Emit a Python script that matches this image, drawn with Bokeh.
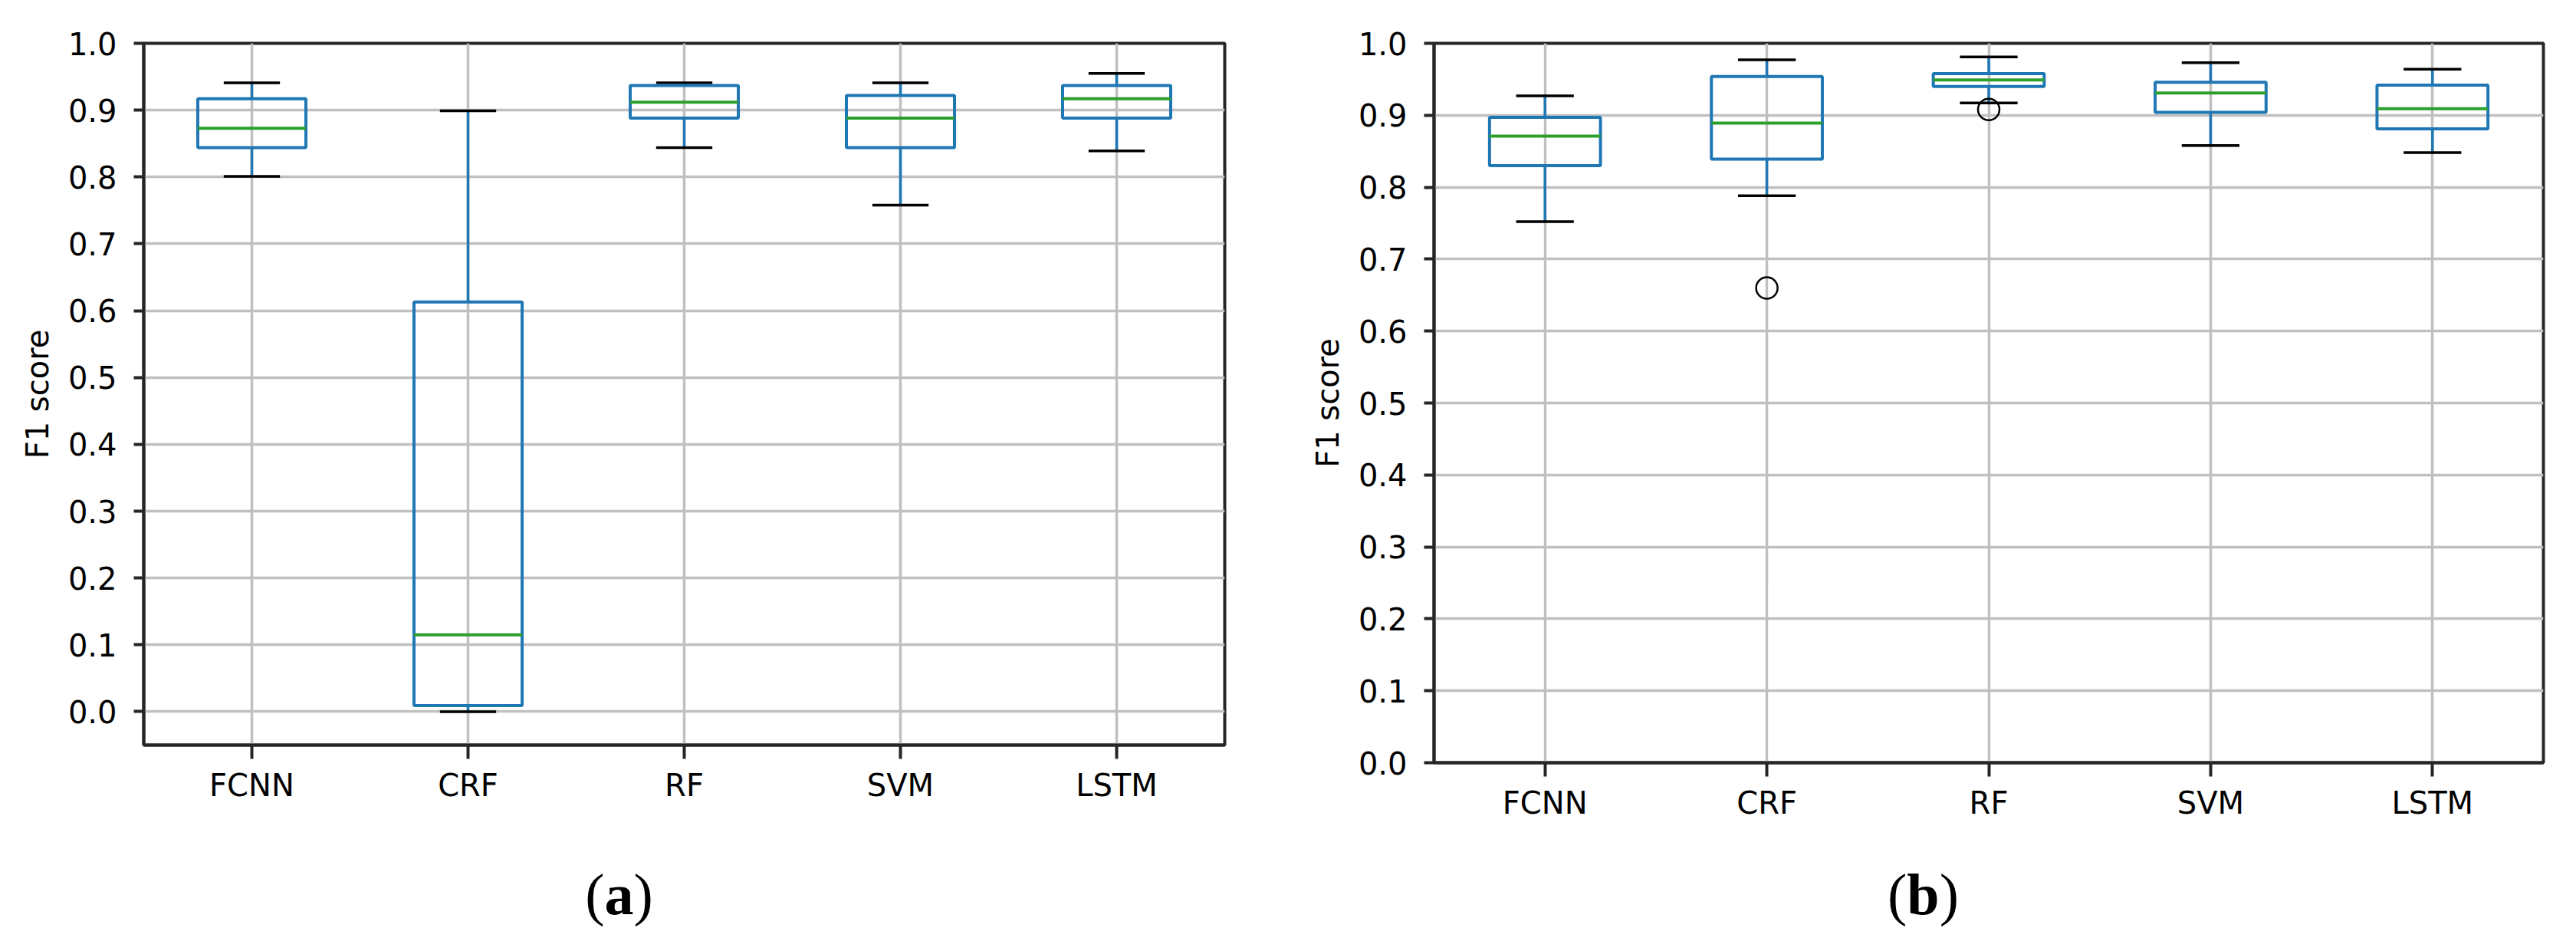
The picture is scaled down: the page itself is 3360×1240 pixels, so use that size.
from bokeh.plotting import figure
from bokeh.layouts import row, column
from bokeh.models import ColumnDataSource, FactorRange, Range1d, FixedTicker, PrintfTickFormatter
from bokeh.transform import dodge
from bokeh.core.properties import value
from bokeh.embed import file_html
from bokeh.resources import INLINE

# ---------------- data ----------------
categories = ["FCNN", "CRF", "RF", "SVM", "LSTM"]
y_ticks = [0.0, 0.1, 0.2, 0.3, 0.4, 0.5, 0.6, 0.7, 0.8, 0.9, 1.0]
y_label = "F1 score"
captions = ["a", "b"]

# panel (a)
a_low = [0.801, 0.000, 0.844, 0.758, 0.839]
a_q1 = [0.844, 0.009, 0.888, 0.844, 0.888]
a_median = [0.873, 0.115, 0.912, 0.888, 0.917]
a_q3 = [0.917, 0.613, 0.937, 0.922, 0.937]
a_high = [0.941, 0.899, 0.941, 0.941, 0.955]
a_out_cat = []
a_out_val = []

# panel (b)
b_low = [0.752, 0.788, 0.917, 0.858, 0.848]
b_q1 = [0.830, 0.839, 0.940, 0.904, 0.881]
b_median = [0.871, 0.889, 0.949, 0.931, 0.909]
b_q3 = [0.897, 0.954, 0.958, 0.946, 0.942]
b_high = [0.927, 0.977, 0.981, 0.973, 0.964]
b_out_cat = ["CRF", "RF"]
b_out_val = [0.660, 0.908]

BLUE = "#1f77b4"
GREEN = "#2ca02c"
DARK = "#262626"
GRID = "#c0c0c0"
FONT = "DejaVu Sans"
FIG_W = 1672
PLOT_H = 1075
CAP_H = 150


def make_panel(low, q1, med, q3, high, out_cat, out_val, y0, border_left, frame_w,
               frame_h):
    border_right = FIG_W - border_left - frame_w
    border_bottom = PLOT_H - 56 - frame_h
    p = figure(x_range=FactorRange(factors=categories, range_padding=0),
               y_range=Range1d(y0, 1.0), title=None,
               frame_width=frame_w, frame_height=frame_h,
               min_border_left=border_left, min_border_right=border_right,
               min_border_top=56, min_border_bottom=border_bottom,
               output_backend="svg", toolbar_location=None,
               background_fill_color="white", border_fill_color="white")
    src = ColumnDataSource(dict(x=categories, low=low, q1=q1, med=med, q3=q3, high=high))

    for g in (p.xgrid, p.ygrid):
        g.grid_line_color = GRID
        g.grid_line_width = 3.5
    p.yaxis.ticker = FixedTicker(ticks=y_ticks)
    p.ygrid.ticker = FixedTicker(ticks=y_ticks)
    p.yaxis.formatter = PrintfTickFormatter(format="%.1f")

    for ax in (p.xaxis, p.yaxis):
        ax.axis_line_color = DARK
        ax.axis_line_width = 4
        ax.major_tick_line_color = DARK
        ax.major_tick_line_width = 4
        ax.major_tick_in = 0
        ax.minor_tick_line_color = None
        ax.major_label_text_font = FONT
        ax.major_label_text_font_size = "40px"
        ax.major_label_text_color = "black"
    p.xaxis.major_tick_out = 18
    p.xaxis.major_label_standoff = 11
    p.yaxis.major_tick_out = 13
    p.yaxis.major_label_standoff = 22
    p.yaxis.axis_label = y_label
    p.yaxis.axis_label_text_font = FONT
    p.yaxis.axis_label_text_font_size = "40px"
    p.yaxis.axis_label_text_font_style = "normal"
    p.yaxis.axis_label_text_color = "black"
    p.yaxis.axis_label_standoff = 14
    p.outline_line_color = DARK
    p.outline_line_width = 4

    # whiskers
    p.segment(x0="x", y0="q3", x1="x", y1="high", source=src, line_color=BLUE, line_width=3.5)
    p.segment(x0="x", y0="low", x1="x", y1="q1", source=src, line_color=BLUE, line_width=3.5)
    # caps
    lo_x = dodge("x", -0.13, range=p.x_range)
    hi_x = dodge("x", 0.13, range=p.x_range)
    p.segment(x0=lo_x, y0="high", x1=hi_x, y1="high", source=src, line_color="black", line_width=3.5)
    p.segment(x0=lo_x, y0="low", x1=hi_x, y1="low", source=src, line_color="black", line_width=3.5)
    # boxes
    p.vbar(x="x", width=0.5, top="q3", bottom="q1", source=src,
           fill_alpha=0, line_color=BLUE, line_width=4)
    # medians
    p.segment(x0=dodge("x", -0.25, range=p.x_range), y0="med",
              x1=dodge("x", 0.25, range=p.x_range), y1="med",
              source=src, line_color=GREEN, line_width=4)
    # outliers
    if out_cat:
        osrc = ColumnDataSource(dict(x=out_cat, y=out_val))
        p.scatter(x="x", y="y", source=osrc, marker="circle", size=28,
                  fill_alpha=0, line_color="black", line_width=2.5)
    return p


def make_caption(letter, center_x):
    c = figure(x_range=Range1d(0, FIG_W), y_range=Range1d(0, CAP_H), title=None,
               width=FIG_W, height=CAP_H,
               min_border_left=0, min_border_right=0, min_border_top=0, min_border_bottom=0,
               x_axis_type=None, y_axis_type=None,
               output_backend="svg", toolbar_location=None,
               background_fill_color="white", border_fill_color="white")
    c.outline_line_color = None
    c.xgrid.visible = False
    c.ygrid.visible = False
    f = 76
    letter_w = (0.5 if letter == "a" else 0.556) * f
    paren_w = 0.333 * f
    left = center_x - (2 * paren_w + letter_w) / 2
    base_y = CAP_H - (1173 - 8 - PLOT_H)
    common = dict(text_font=value("Liberation Serif"), text_font_size=f"{f}px",
                  text_color="black", text_align="left", text_baseline="alphabetic")
    c.text(x=[left], y=[base_y], text=["("], text_font_style="normal", **common)
    c.text(x=[left + paren_w], y=[base_y], text=[letter], text_font_style="bold", **common)
    c.text(x=[left + paren_w + letter_w], y=[base_y], text=[")"], text_font_style="normal", **common)
    return c


p1 = make_panel(a_low, a_q1, a_median, a_q3, a_high, a_out_cat, a_out_val, -0.05,
                187, 1410, 915)
p2 = make_panel(b_low, b_q1, b_median, b_q3, b_high, b_out_cat, b_out_val, 0.0,
                198, 1447, 938)
c1 = make_caption(captions[0], 815 - 8)
c2 = make_caption(captions[1], 2516 - 8 - FIG_W)

layout = column(row(p1, p2), row(c1, c2))
open("out.html", "w").write(file_html(layout, INLINE))
